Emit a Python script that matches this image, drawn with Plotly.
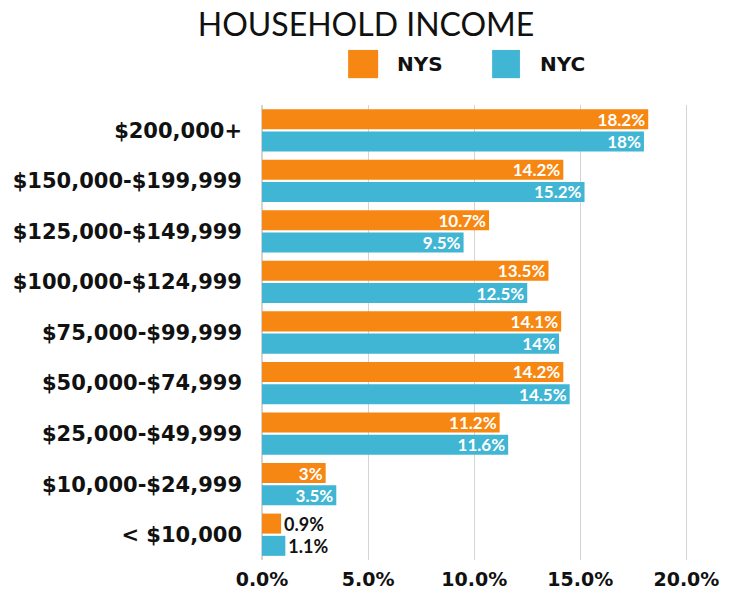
import plotly.graph_objects as go

categories = ['$200,000+', '$150,000-$199,999', '$125,000-$149,999',
              '$100,000-$124,999', '$75,000-$99,999', '$50,000-$74,999',
              '$25,000-$49,999', '$10,000-$24,999', '< $10,000']
nys = [18.2, 14.2, 10.7, 13.5, 14.1, 14.2, 11.2, 3, 0.9]
nyc = [18, 15.2, 9.5, 12.5, 14, 14.5, 11.6, 3.5, 1.1]
x_ticks = [0, 5, 10, 15, 20]
x_ticklabels = ['0.0%', '5.0%', '10.0%', '15.0%', '20.0%']

ORANGE = '#F68712'
BLUE = '#41B6D4'
FONT = 'Lato, Roboto, sans-serif'
WIDE = 'DejaVu Sans, sans-serif'


def make_trace(name, values, color):
    # small bars get their label outside in black
    pos = ['inside' if v >= 2 else 'outside' for v in values]
    colors = ['white' if v >= 2 else '#111111' for v in values]
    return go.Bar(
        name=name, y=categories, x=values, orientation='h',
        marker=dict(color=color, line=dict(width=0)),
        text=['%g%%' % v for v in values],
        textposition=pos,
        insidetextanchor='end',
        constraintext='none',
        textfont=dict(family=FONT, size=17, color=colors, weight='bold'),
        outsidetextfont=dict(family=FONT, size=18, color=colors, weight='bold'),
        cliponaxis=False,
        showlegend=False,
    )


fig = go.Figure([make_trace('NYS', nys, ORANGE), make_trace('NYC', nyc, BLUE)])

# legend drawn as squares + labels above the plot
legend_items = [('NYS', ORANGE, 0.198, 0.267, 0.306),
                ('NYC', BLUE, 0.529, 0.593, 0.634)]
for label, color, x0, x1, xt in legend_items:
    fig.add_shape(type='rect', xref='paper', yref='paper', x0=x0, x1=x1,
                  y0=1.059, y1=1.121, fillcolor=color, line=dict(width=0))
    fig.add_annotation(text=label, xref='paper', yref='paper', x=xt, y=1.090,
                       xanchor='left', yanchor='middle', showarrow=False,
                       font=dict(family=WIDE, size=20, weight='bold', color='#111111'))

fig.update_layout(
    width=739, height=596,
    paper_bgcolor='white', plot_bgcolor='white',
    font=dict(family=FONT, color='#111111'),
    title=dict(text='HOUSEHOLD INCOME', x=0.4845, xanchor='center', y=0.972,
               yanchor='middle', font=dict(family=FONT, size=32, color='#111111')),
    margin=dict(l=254, r=50, t=97, b=44, autoexpand=False),
    barmode='group', bargap=0.12, bargroupgap=0.1,
    showlegend=False,
)
fig.update_xaxes(range=[0, 20.5], tickvals=x_ticks, ticktext=x_ticklabels,
                 showgrid=True, gridcolor='#d4d4d4', gridwidth=1,
                 zeroline=True, zerolinecolor='#d4d4d4', showline=False,
                 tickfont=dict(family=WIDE, size=19, weight='bold', color='#111111'),
                 ticks='', ticklabelstandoff=6, automargin=False)
fig.update_yaxes(autorange='reversed', showgrid=False, ticks='',
                 ticklabelstandoff=19, automargin=False,
                 tickfont=dict(family=WIDE, size=21, weight='bold', color='#111111'))

fig.write_html('out.html')
